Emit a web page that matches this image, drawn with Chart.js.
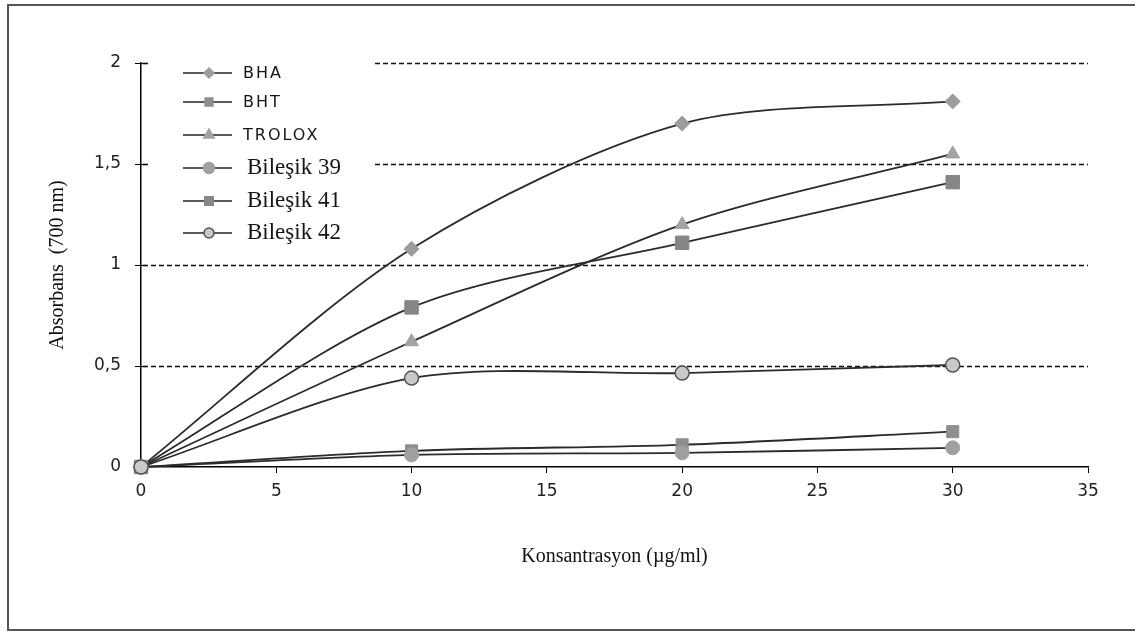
<!DOCTYPE html>
<html>
<head>
<meta charset="utf-8">
<script src="https://cdn.jsdelivr.net/npm/chart.js@4.4.1/dist/chart.umd.min.js"></script>
<style>
  body { margin: 0; background: #fff; }
  canvas { display: block; }
</style>
</head>
<body>
<canvas id="myChart" width="1135" height="633"></canvas>
<script>
// concentrations (µg/ml)
const concentrations = [0, 10, 20, 30];

// absorbance at 700 nm
const bha      = [0, 1.08, 1.70, 1.81];
const bht      = [0, 0.08, 0.11, 0.175];
const trolox   = [0, 0.62, 1.20, 1.55];
const bilesik39 = [0, 0.06, 0.07, 0.095];
const bilesik41 = [0, 0.79, 1.11, 1.41];
const bilesik42 = [0, 0.44, 0.465, 0.505];

const seriesNames = ['BHA', 'BHT', 'TROLOX', 'Bileşik 39', 'Bileşik 41', 'Bileşik 42'];
const seriesValues = [bha, bht, trolox, bilesik39, bilesik41, bilesik42];

const xTicks = [0, 5, 10, 15, 20, 25, 30, 35];
const yTicks = [0, 0.5, 1, 1.5, 2];

// marker look per series
const markerStyle = ['rectRot', 'rect', 'triangle', 'circle', 'rect', 'circle'];
const markerRadius = [7.5, 8.5, 8, 7, 9.5, 7];
const legendRadius = [5, 5.5, 6, 5.5, 6, 5];
const markerFill = ['#9c9c9c', '#8e8e8e', '#a2a2a2', '#a0a0a0', '#878787', '#c9c9c9'];
const markerBorder = ['#9c9c9c', '#8e8e8e', '#a2a2a2', '#a0a0a0', '#878787', '#555555'];
const legendFonts = [
	'16px "DejaVu Sans"', '16px "DejaVu Sans"', '16px "DejaVu Sans"',
	'23px "Liberation Serif"', '23px "Liberation Serif"', '23px "Liberation Serif"'
];
const legendRowY = [73, 102, 135, 168, 201, 233];

const datasets = seriesNames.map((name, i) => ({
	label: name,
	data: concentrations.map((c, j) => ({ x: c, y: seriesValues[i][j] })),
	borderColor: '#2b2b2b',
	borderWidth: 1.8,
	tension: 0.3,
	fill: false,
	clip: false,
	pointStyle: markerStyle[i],
	pointRadius: markerRadius[i],
	pointBackgroundColor: markerFill[i],
	pointBorderColor: markerBorder[i],
	pointBorderWidth: i === 5 ? 1.5 : 1,
	order: 6 - i
}));

// dashed gridlines + inner tick marks on the y axis
const gridPlugin = {
	id: 'dashedGrid',
	beforeDatasetsDraw(chart) {
		const ctx = chart.ctx;
		const area = chart.chartArea;
		const y = chart.scales.y;
		ctx.save();
		ctx.strokeStyle = '#111';
		ctx.lineWidth = 1.4;
		ctx.setLineDash([5, 3]);
		yTicks.forEach(v => {
			if (v === 0) return;
			const py = Math.round(y.getPixelForValue(v)) + 0.5;
			ctx.beginPath();
			ctx.moveTo(area.left + 2, py);
			ctx.lineTo(area.right, py);
			ctx.stroke();
		});
		ctx.setLineDash([]);
		ctx.lineWidth = 1.2;
		yTicks.forEach(v => {
			const py = Math.round(y.getPixelForValue(v)) + 0.5;
			ctx.beginPath();
			ctx.moveTo(area.left, py);
			ctx.lineTo(area.left + 6, py);
			ctx.stroke();
		});
		ctx.restore();
	}
};

// legend box drawn by hand, with mixed fonts
const legendPlugin = {
	id: 'boxLegend',
	afterDatasetsDraw(chart) {
		const ctx = chart.ctx;
		ctx.save();
		ctx.fillStyle = '#fff';
		ctx.fillRect(148, 52, 224, 198);
		chart.data.datasets.forEach((ds, i) => {
			const cy = legendRowY[i];
			ctx.strokeStyle = '#222';
			ctx.lineWidth = 1.5;
			ctx.beginPath();
			ctx.moveTo(183, cy);
			ctx.lineTo(232, cy);
			ctx.stroke();
			ctx.fillStyle = ds.pointBackgroundColor;
			ctx.strokeStyle = ds.pointBorderColor;
			Chart.helpers.drawPoint(ctx, {
				pointStyle: ds.pointStyle,
				radius: legendRadius[i],
				rotation: 0,
				borderWidth: ds.pointBorderWidth
			}, 209, cy);
			ctx.fillStyle = '#151515';
			ctx.font = legendFonts[i];
			ctx.textBaseline = 'middle';
			ctx.textAlign = 'left';
			ctx.letterSpacing = i < 3 ? '2px' : '0px';
			ctx.fillText(ds.label, i < 3 ? 243 : 247, cy + (i < 3 ? 1 : 0));
		});
		ctx.restore();
	}
};

// outer frame of the figure
const framePlugin = {
	id: 'frame',
	beforeDraw(chart) {
		const ctx = chart.ctx;
		ctx.save();
		ctx.fillStyle = '#fff';
		ctx.fillRect(0, 0, chart.width, chart.height);
		ctx.strokeStyle = '#555';
		ctx.lineWidth = 2;
		ctx.strokeRect(8, 5, 1140, 625);
		ctx.restore();
	}
};

const ctx = document.getElementById('myChart');
new Chart(ctx, {
	type: 'line',
	data: { datasets: datasets },
	options: {
		responsive: false,
		animation: false,
		layout: { padding: { top: 63, right: 47, left: 0, bottom: 0 } },
		plugins: {
			legend: { display: false },
			tooltip: { enabled: false }
		},
		scales: {
			x: {
				type: 'linear',
				min: 0,
				max: 35,
				afterFit: s => { s.height = 166; },
				afterBuildTicks: s => { s.ticks = xTicks.map(v => ({ value: v })); },
				grid: { drawOnChartArea: false, drawTicks: true, tickLength: 6, color: '#000' },
				border: { color: '#000', width: 1.5 },
				ticks: { color: '#222', font: { family: 'DejaVu Sans', size: 17 }, padding: 8 },
				title: {
					display: true,
					text: 'Konsantrasyon (µg/ml)',
					color: '#111',
					font: { family: 'Liberation Serif', size: 20 },
					padding: { top: 0, bottom: 64 }
				}
			},
			y: {
				min: 0,
				max: 2,
				afterFit: s => { s.width = 141; },
				afterBuildTicks: s => { s.ticks = yTicks.map(v => ({ value: v })); },
				grid: { drawOnChartArea: false, drawTicks: true, tickLength: 6, color: '#000' },
				border: { color: '#000', width: 1.5 },
				ticks: {
					color: '#222',
					font: { family: 'DejaVu Sans', size: 17 },
					padding: 14,
					callback: v => String(v).replace('.', ',')
				},
				title: {
					display: true,
					text: 'Absorbans  (700 nm)',
					color: '#111',
					font: { family: 'Liberation Serif', size: 20 },
					padding: { top: 46, bottom: 0 }
				}
			}
		}
	},
	plugins: [framePlugin, gridPlugin, legendPlugin]
});
</script>
</body>
</html>
